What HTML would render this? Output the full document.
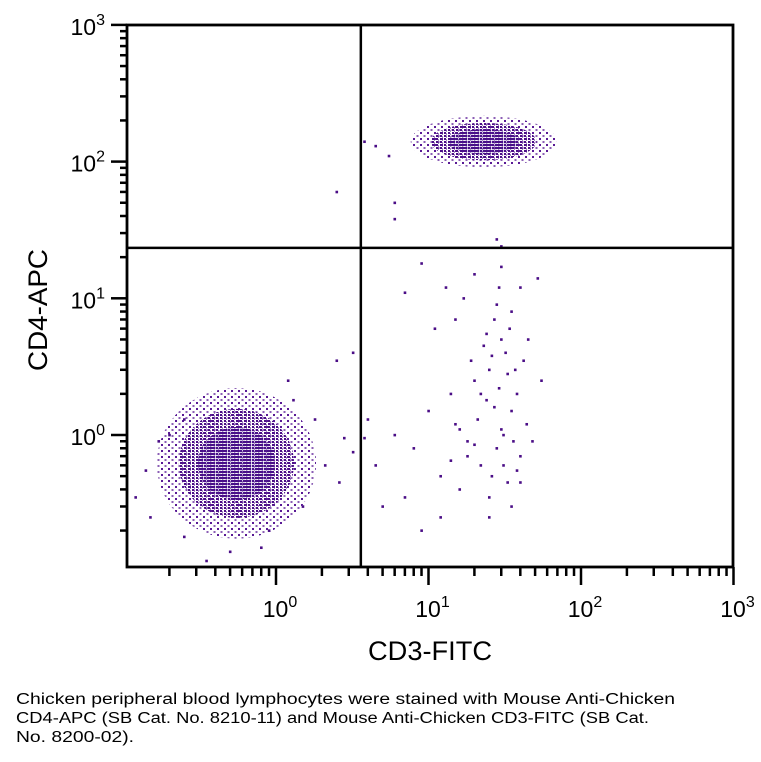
<!DOCTYPE html>
<html><head><meta charset="utf-8"><style>
html,body{margin:0;padding:0;background:#fff;}
svg{display:block;font-family:"Liberation Sans",sans-serif;}
</style></head><body>
<svg id="chart" width="761" height="762" viewBox="0 0 761 762" xmlns="http://www.w3.org/2000/svg">
<defs>
<pattern id="densePat" width="3" height="3" patternUnits="userSpaceOnUse"><rect width="2.2" height="2.2" fill="#48108a"/></pattern>
<pattern id="midPat" width="4" height="3" patternUnits="userSpaceOnUse"><rect width="2" height="2" fill="#4a0d86"/><rect x="2" y="1.5" width="1" height="1" fill="#4a0d86"/></pattern>
<pattern id="sparsePat" width="7" height="6" patternUnits="userSpaceOnUse"><rect width="2" height="2" fill="#5a1a96"/><rect x="3.5" y="3" width="2" height="2" fill="#5a1a96" opacity="0.7"/></pattern>
</defs>
<g id="marks"></g>
<g id="axes"></g>
<text x="430" y="660" text-anchor="middle" font-size="27" textLength="124" lengthAdjust="spacingAndGlyphs">CD3-FITC</text>
<text transform="translate(47,310) rotate(-90)" text-anchor="middle" font-size="27" textLength="122" lengthAdjust="spacingAndGlyphs">CD4-APC</text>
<g font-size="15.5">
<text x="16" y="704" textLength="659" lengthAdjust="spacingAndGlyphs">Chicken peripheral blood lymphocytes were stained with Mouse Anti-Chicken</text>
<text x="16" y="723" textLength="633" lengthAdjust="spacingAndGlyphs">CD4-APC (SB Cat. No. 8210-11) and Mouse Anti-Chicken CD3-FITC (SB Cat.</text>
<text x="16" y="742" textLength="118" lengthAdjust="spacingAndGlyphs">No. 8200-02).</text>
</g>
</svg>
<script>
// Data
const xTickExps = [0, 1, 2, 3];
const yTickExps = [0, 1, 2, 3];
const quadX = 3.6;
const quadY = 23.4;
// Populations as dense clouds: center values and spread (decades)
const clusterNames = ['cd3neg-cd4neg', 'cd3pos-cd4pos'];
const clusterCx = [0.55, 23];
const clusterCy = [0.62, 140];
const clusterRx = [0.36, 0.33];
const clusterRy = [0.38, 0.13];
// Scattered events (x = CD3-FITC, y = CD4-APC)
const eventX = [15,20,25,30,28,22,35,18,27,32,24,38,40,12,8,6,10,14,16,26,33,36,30,21,19,29,23,34,37,25,31,44,55,52,20,13,30,9,7,11,15,17,28,40,45,48,5,4.5,3.8,4,12,9,7,25,35,40,18,27,33,22,26,31,38,42,20,16,14,24,29,35,
 2.5,6,6,4.5,3.8,5.5,28,30,
 0.12,0.14,0.2,0.25,3.2,2.5,1.2,0.8,0.25,0.5,1.8,2.8,3.2,2.6,1.5,0.9,0.35,0.17,0.15,1.3,2.1];
const eventY = [1.2,2.5,3,5,0.8,0.6,1.5,0.9,7,4,1.8,2,0.7,0.5,0.8,1,1.5,2,0.4,0.5,0.45,0.9,1.1,1.3,3.5,2.2,4.5,6,3,0.35,0.6,1.2,2.5,14,15,12,17,18,11,6,7,10,9,12,5,0.9,0.3,0.6,0.95,1.3,0.25,0.2,0.35,0.25,0.3,0.45,0.7,1.6,2.8,2,3.8,1,0.55,3.5,0.85,1.1,0.65,5.5,12,8,
 60,50,38,130,140,110,27,24,
 0.35,0.55,1,1.3,4,3.5,2.5,0.15,0.18,0.14,1.3,0.95,0.75,0.45,0.3,0.2,0.12,0.9,0.25,1.8,0.6];

// Axis functions
const X0 = 276, XD = 152.5, Y0 = 435, YD = 136.7;
const L = 127, R = 733, T = 25, B = 567;
const sx = v => X0 + Math.log10(v) * XD;
const sy = v => Y0 - Math.log10(v) * YD;
const NS = 'http://www.w3.org/2000/svg';
function mk(tag, attrs, parent) {
  const e = document.createElementNS(NS, tag);
  for (const k in attrs) e.setAttribute(k, attrs[k]);
  parent.appendChild(e); return e;
}
const marks = document.getElementById('marks');
const axes = document.getElementById('axes');

clusterCx.forEach((cx, i) => {
  const px = sx(cx), py = sy(clusterCy[i]);
  const rx = clusterRx[i] * XD, ry = clusterRy[i] * YD;
  const halo = mk('ellipse', {cx: px, cy: py, rx: rx * 1.45, ry: ry * 1.45, fill: 'url(#sparsePat)'}, marks);
  
  
  const mid = mk('ellipse', {cx: px, cy: py, rx: rx * 1.05, ry: ry * 1.05, fill: 'url(#midPat)'}, marks);
  
  
  const core = mk('ellipse', {cx: px, cy: py, rx: rx * 0.7, ry: ry * 0.7, fill: 'url(#densePat)'}, marks);
  
  
});
eventX.forEach((v, i) => {
  const r = mk('rect', {x: sx(v) - 1.2, y: sy(eventY[i]) - 1.2, width: 2.6, height: 2.6, fill: '#4a0d86'}, marks);
  
  
});

const qv = mk('line', {x1: sx(quadX), x2: sx(quadX), y1: T, y2: B, stroke: '#000', 'stroke-width': 2.5}, axes);


const qh = mk('line', {x1: L, x2: R, y1: sy(quadY), y2: sy(quadY), stroke: '#000', 'stroke-width': 2.5}, axes);



const fr = mk('rect', {x: L, y: T, width: R - L, height: B - T, fill: 'none', stroke: '#000', 'stroke-width': 2.8}, axes);



for (let e = -1; e <= 3; e++) {
  for (let m = 1; m <= 9; m++) {
    const v = m * Math.pow(10, e);
    const px = sx(v), py = sy(v);
    if (px >= L - 0.5 && px <= R + 0.5) {
      const len = m === 1 ? 18 : 9;
      const t = mk('line', {x1: px, x2: px, y1: B, y2: B + len, stroke: '#000', 'stroke-width': 2.5}, axes);
      
      
    }
    if (py >= T - 0.5 && py <= B + 0.5) {
      const len = m === 1 ? 16 : 7;
      const t = mk('line', {x1: L - len, x2: L, y1: py, y2: py, stroke: '#000', 'stroke-width': 2.5}, axes);
      
      
    }
  }
}
function label(x, y, exp, anchorEnd, name) {
  const t = mk('text', {x: x, y: y, 'font-size': 23, 'text-anchor': anchorEnd ? 'end' : 'middle'}, axes);
  
  
  const a = document.createElementNS(NS, 'tspan'); a.textContent = '10'; t.appendChild(a);
  const b = document.createElementNS(NS, 'tspan'); b.setAttribute('dy', '-10'); b.setAttribute('font-size', '16'); b.textContent = String(exp); t.appendChild(b);
}
xTickExps.forEach(e => label(sx(Math.pow(10, e)) + 4, 617, e, false, 'x-tick-label'));
yTickExps.forEach(e => label(L - 22, sy(Math.pow(10, e)) + 10, e, true, 'y-tick-label'));
</script>
</body></html>
